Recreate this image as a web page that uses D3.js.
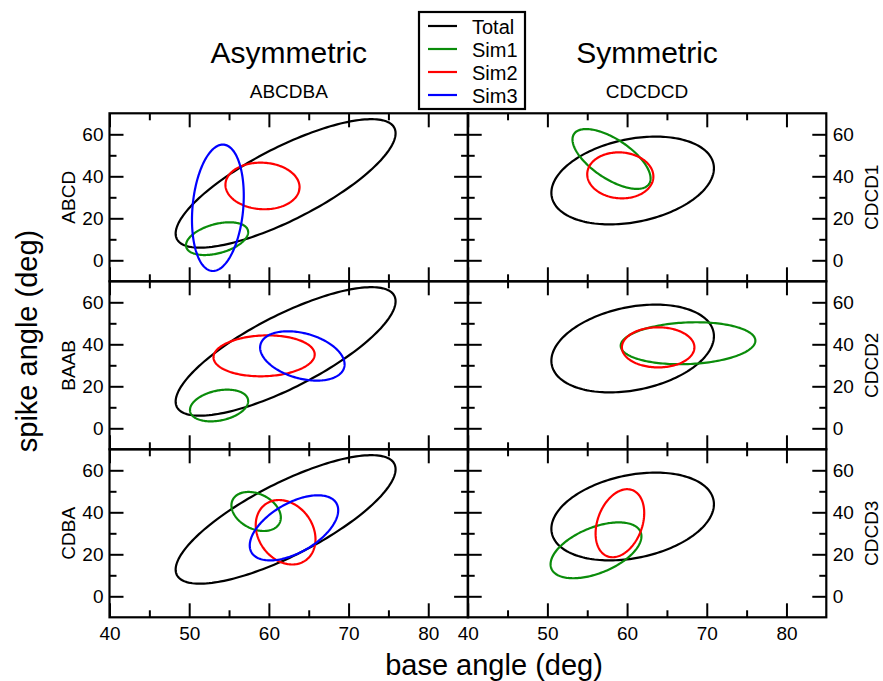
<!DOCTYPE html>
<html>
<head>
<meta charset="utf-8">
<script src="https://cdn.jsdelivr.net/npm/d3@7"></script>
<style>
  body { margin: 0; background: #fff; }
  svg { display: block; }
  text { font-family: "Liberation Sans", Arial, Helvetica, sans-serif; fill: #000; }
</style>
</head>
<body>
<svg id="chart" width="883" height="681"></svg>
<script>
// ---------------- data ----------------
const seriesNames = ["Total", "Sim1", "Sim2", "Sim3"];
const seriesColors = ["#000000", "#0a8c0a", "#ff0000", "#0000ff"];
const columnTitles = ["Asymmetric", "Symmetric"];
const columnSubtitles = ["ABCDBA", "CDCDCD"];
const leftRowLabels = ["ABCD", "BAAB", "CDBA"];
const rightRowLabels = ["CDCD1", "CDCD2", "CDCD3"];
const xMajorTicks = [40, 50, 60, 70, 80];
const xMinorTicks = [45, 55, 65, 75];
const yMajorTicks = [0, 20, 40, 60];
const yMinorTicks = [10, 30, 50];

// ellipse parameters: [centre x, centre y, sd x, sd y, correlation]
const totalAsym = [62.1, 36.6, 13.8, 30.6, 0.78];
const totalSym  = [60.7, 38.0, 10.2, 20.9, 0.28];
const ABCD_sim1 = [53.5, 10.3, 3.9, 7.8, 0.40];
const ABCD_sim2 = [59.2, 35.4, 4.65, 11.1, -0.05];
const ABCD_sim3 = [53.6, 25.0, 3.25, 30.1, 0.19];
const BAAB_sim1 = [53.75, 10.85, 3.65, 7.55, 0.28];
const BAAB_sim2 = [59.4, 34.5, 6.35, 9.75, 0.07];
const BAAB_sim3 = [64.2, 34.45, 5.3, 11.75, -0.34];
const CDBA_sim1 = [58.4, 40.4, 3.1, 9.3, -0.31];
const CDBA_sim2 = [62.1, 30.5, 3.75, 15.35, -0.22];
const CDBA_sim3 = [63.15, 32.6, 5.55, 15.5, 0.54];
const CDCD1_sim1 = [58.05, 48.25, 4.9, 14.25, -0.65];
const CDCD1_sim2 = [59.15, 40.45, 4.15, 10.95, -0.05];
const CDCD2_sim1 = [67.65, 40.5, 8.45, 10.0, 0.12];
const CDCD2_sim2 = [63.9, 38.55, 4.55, 9.55, 0.0];
const CDCD3_sim1 = [56.1, 21.9, 5.7, 13.3, 0.5];
const CDCD3_sim2 = [59.1, 34.8, 3.05, 16.2, 0.3];

const leftPanels = [
  [totalAsym, ABCD_sim1, ABCD_sim2, ABCD_sim3],
  [totalAsym, BAAB_sim1, BAAB_sim2, BAAB_sim3],
  [totalAsym, CDBA_sim1, CDBA_sim2, CDBA_sim3]
];
const rightPanels = [
  [totalSym, CDCD1_sim1, CDCD1_sim2],
  [totalSym, CDCD2_sim1, CDCD2_sim2],
  [totalSym, CDCD3_sim1, CDCD3_sim2]
];

// ---------------- layout ----------------
const svg = d3.select("#chart");
const colX = [109.5, 467.7];
const panelW = 358.6;
const rowTop = 113.3;
const panelH = 168;
const FONT_TICK = 19;

function ellipsePoints(p) {
  const [cx, cy, sx, sy, r] = p;
  const q = Math.sqrt(1 - r * r);
  return d3.range(0, 181).map(i => {
    const t = (i / 180) * 2 * Math.PI;
    return [cx + sx * Math.cos(t), cy + sy * (r * Math.cos(t) + q * Math.sin(t))];
  });
}

function drawPanel(col, row, ellipses) {
  const x0 = colX[col], y0 = rowTop + row * panelH;
  const x = d3.scaleLinear().domain([40, 85]).range([x0, x0 + panelW]);
  const y = d3.scaleLinear().domain([-10, 70]).range([y0 + panelH, y0]);
  const g = svg.append("g");

  const line = d3.line().x(d => x(d[0])).y(d => y(d[1])).curve(d3.curveLinearClosed);
  ellipses.forEach((e, i) => {
    g.append("path")
      .attr("d", line(ellipsePoints(e)))
      .attr("fill", "none")
      .attr("stroke", seriesColors[i])
      .attr("stroke-width", 2.2);
  });

  const styleAxis = sel => {
    sel.select(".domain").remove();
    sel.selectAll(".tick line").attr("stroke", "#000").attr("stroke-width", 2);
    sel.selectAll(".tick text").attr("font-size", FONT_TICK).attr("font-family", "Liberation Sans, Arial, sans-serif").attr("fill", "#000");
  };
  const isBottom = row === 2;
  // bottom
  g.append("g").attr("transform", `translate(0,${y0 + panelH})`)
    .call(d3.axisBottom(x).tickValues(xMajorTicks).tickSize(-14).tickSizeOuter(0).tickPadding(9.5)
      .tickFormat(isBottom ? d3.format("d") : () => ""))
    .call(styleAxis);
  g.append("g").attr("transform", `translate(0,${y0 + panelH})`)
    .call(d3.axisBottom(x).tickValues(xMinorTicks).tickSize(-7).tickSizeOuter(0).tickFormat(() => ""))
    .call(styleAxis);
  // top
  g.append("g").attr("transform", `translate(0,${y0})`)
    .call(d3.axisTop(x).tickValues(xMajorTicks).tickSize(-14).tickSizeOuter(0).tickFormat(() => ""))
    .call(styleAxis);
  g.append("g").attr("transform", `translate(0,${y0})`)
    .call(d3.axisTop(x).tickValues(xMinorTicks).tickSize(-7).tickSizeOuter(0).tickFormat(() => ""))
    .call(styleAxis);
  // left
  g.append("g").attr("transform", `translate(${x0},0)`)
    .call(d3.axisLeft(y).tickValues(yMajorTicks).tickSize(-14).tickSizeOuter(0).tickPadding(6)
      .tickFormat(col === 0 ? d3.format("d") : () => ""))
    .call(styleAxis);
  g.append("g").attr("transform", `translate(${x0},0)`)
    .call(d3.axisLeft(y).tickValues(yMinorTicks).tickSize(-7).tickSizeOuter(0).tickFormat(() => ""))
    .call(styleAxis);
  // right
  g.append("g").attr("transform", `translate(${x0 + panelW},0)`)
    .call(d3.axisRight(y).tickValues(yMajorTicks).tickSize(-14).tickSizeOuter(0).tickPadding(6.5)
      .tickFormat(col === 1 ? d3.format("d") : () => ""))
    .call(styleAxis);
  g.append("g").attr("transform", `translate(${x0 + panelW},0)`)
    .call(d3.axisRight(y).tickValues(yMinorTicks).tickSize(-7).tickSizeOuter(0).tickFormat(() => ""))
    .call(styleAxis);

  g.append("rect")
    .attr("x", x0).attr("y", y0).attr("width", panelW).attr("height", panelH)
    .attr("fill", "none").attr("stroke", "#000").attr("stroke-width", 2.2);

  // row label
  if (col === 0) {
    svg.append("text")
      .attr("transform", `translate(75,${y0 + panelH / 2}) rotate(-90)`)
      .attr("text-anchor", "middle").attr("font-size", 19)
      .text(leftRowLabels[row]);
  } else {
    svg.append("text")
      .attr("transform", `translate(878,${y0 + panelH / 2}) rotate(-90)`)
      .attr("text-anchor", "middle").attr("font-size", 19)
      .text(rightRowLabels[row]);
  }
}

leftPanels.forEach((e, r) => drawPanel(0, r, e));
rightPanels.forEach((e, r) => drawPanel(1, r, e));

// column titles
[0, 1].forEach(c => {
  const cx = colX[c] + panelW / 2;
  svg.append("text").attr("x", cx).attr("y", 63).attr("text-anchor", "middle")
    .attr("font-size", 30).text(columnTitles[c]);
  svg.append("text").attr("x", cx).attr("y", 98).attr("text-anchor", "middle")
    .attr("font-size", 19).text(columnSubtitles[c]);
});

// axis titles
svg.append("text").attr("x", 494).attr("y", 675).attr("text-anchor", "middle")
  .attr("font-size", 29).text("base angle (deg)");
svg.append("text").attr("transform", "translate(37,341) rotate(-90)").attr("text-anchor", "middle")
  .attr("font-size", 29).text("spike angle (deg)");

// legend
const lg = svg.append("g");
lg.append("rect").attr("x", 419).attr("y", 12).attr("width", 106).attr("height", 97)
  .attr("fill", "#fff").attr("stroke", "#000").attr("stroke-width", 2.2);
seriesNames.forEach((s, i) => {
  const ly = 26 + i * 23;
  lg.append("line").attr("x1", 428).attr("x2", 457).attr("y1", ly).attr("y2", ly)
    .attr("stroke", seriesColors[i]).attr("stroke-width", 2.2);
  lg.append("text").attr("x", 472).attr("y", ly + 7.5).attr("font-size", 20).text(s);
});
</script>
</body>
</html>
